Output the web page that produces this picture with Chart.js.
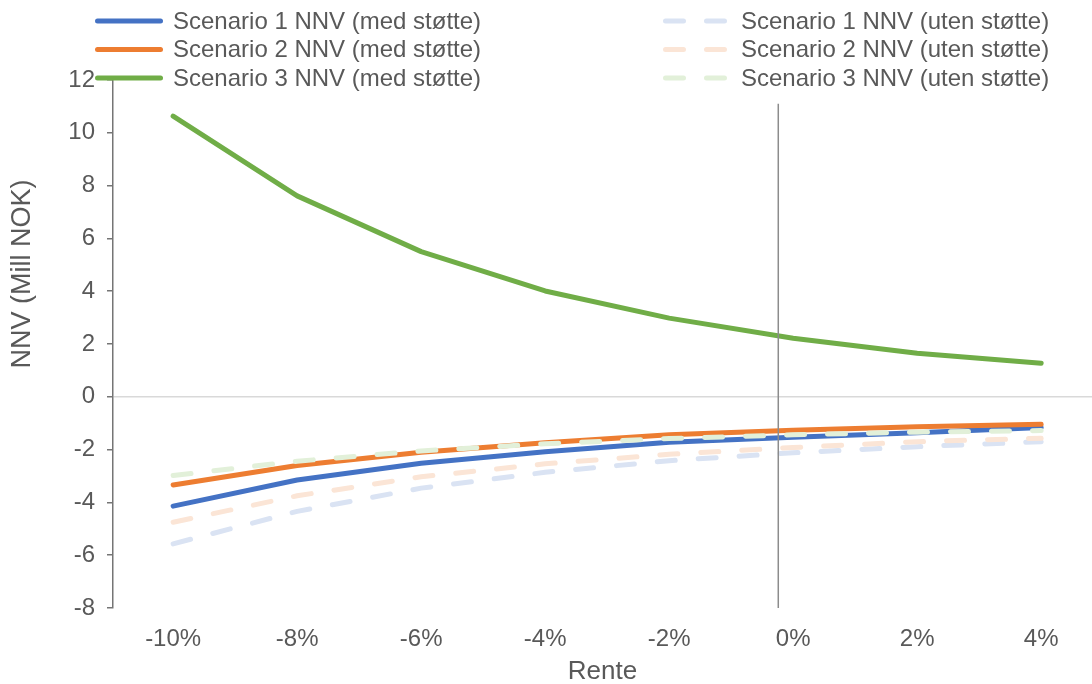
<!DOCTYPE html>
<html>
<head>
<meta charset="utf-8">
<script src="https://cdn.jsdelivr.net/npm/chart.js@4/dist/chart.umd.min.js"></script>
<style>
  html, body { margin: 0; padding: 0; background: #fff; overflow: hidden; }
  #wrap { width: 1092px; height: 684px; }
</style>
</head>
<body>
<div id="wrap"><canvas id="chart" width="1092" height="684"></canvas></div>
<script>
// Rente (%)
const renter = [-10, -8, -6, -4, -2, 0, 2, 4];

// NNV (Mill NOK)
const s1Med = [-4.14, -3.15, -2.52, -2.08, -1.72, -1.53, -1.36, -1.16];
const s2Med = [-3.34, -2.60, -2.10, -1.74, -1.44, -1.27, -1.13, -1.04];
const s3Med = [10.63, 7.61, 5.50, 4.01, 2.98, 2.22, 1.65, 1.27];
const s1Uten = [-5.57, -4.34, -3.46, -2.86, -2.42, -2.12, -1.89, -1.70];
const s2Uten = [-4.75, -3.75, -3.03, -2.54, -2.18, -1.92, -1.70, -1.57];
const s3Uten = [-2.98, -2.44, -2.05, -1.78, -1.58, -1.44, -1.34, -1.28];

const seriesLabels = [
    'Scenario 1 NNV (med støtte)',
    'Scenario 2 NNV (med støtte)',
    'Scenario 3 NNV (med støtte)',
    'Scenario 1 NNV (uten støtte)',
    'Scenario 2 NNV (uten støtte)',
    'Scenario 3 NNV (uten støtte)'
];
const seriesValues = [s1Med, s2Med, s3Med, s1Uten, s2Uten, s3Uten];
const seriesColors = ['#4472C4', '#ED7D31', '#70AD47', '#DAE3F3', '#FBE5D6', '#E2F0D9'];

// vertical reference line
const refX = [-0.24, -0.24];
const refY = [-8, 11.1];

const yTicks = [-8, -6, -4, -2, 0, 2, 4, 6, 8, 10, 12];
const yTitle = 'NNV (Mill NOK)';

const FONT = '"Liberation Sans", Arial, sans-serif';
const TEXT = '#595959';
const DASH = [18, 23];

function toPoints(xs, ys) {
    return xs.map((x, i) => ({ x: x, y: ys[i] }));
}

const datasets = seriesValues.map((vals, i) => ({
    label: seriesLabels[i],
    data: toPoints(renter, vals),
    borderColor: seriesColors[i],
    backgroundColor: seriesColors[i],
    borderWidth: 5,
    borderDash: i >= 3 ? DASH : [],
    borderCapStyle: 'round',
    borderJoinStyle: 'round',
    pointRadius: 0,
    tension: 0,
    fill: false,
    order: 6 - i
}));

datasets.push({
    label: 'ref',
    data: toPoints(refX, refY),
    borderColor: '#8c8c8c',
    borderWidth: 1.5,
    pointRadius: 0,
    fill: false,
    order: 0
});

// legend in two columns + y title placed like the original
const extras = {
    id: 'extras',
    afterDraw(chart) {
        const ctx = chart.ctx;
        ctx.save();
        ctx.font = '24px ' + FONT;
        ctx.fillStyle = TEXT;
        ctx.textBaseline = 'middle';
        ctx.lineCap = 'round';
        ctx.lineWidth = 5;
        seriesLabels.forEach((label, i) => {
            const col = i < 3 ? 0 : 1;
            const row = i % 3;
            const x0 = col ? 665.5 : 97.5;
            const y = 21 + row * 28.5;
            ctx.strokeStyle = seriesColors[i];
            ctx.setLineDash(col ? DASH : []);
            ctx.beginPath();
            ctx.moveTo(x0, y);
            ctx.lineTo(x0 + 63, y);
            ctx.stroke();
            ctx.fillText(label, x0 + 75.5, y + 1);
        });

        ctx.translate(22, 274);
        ctx.rotate(-Math.PI / 2);
        ctx.font = '27px ' + FONT;
        ctx.textAlign = 'center';
        ctx.fillText(yTitle, 0, 1);
        ctx.restore();
    }
};

new Chart(document.getElementById('chart').getContext('2d'), {
    type: 'line',
    data: { datasets: datasets },
    plugins: [extras],
    options: {
        responsive: false,
        animation: false,
        devicePixelRatio: 1,
        layout: { padding: { top: 80, left: 0, right: 0, bottom: 0 } },
        plugins: {
            legend: { display: false },
            tooltip: { enabled: false }
        },
        scales: {
            x: {
                type: 'linear',
                min: -10.97,
                max: 4.82,
                afterBuildTicks: scale => {
                    scale.ticks = renter.map(v => ({ value: v }));
                },
                afterFit: scale => { scale.height = 76; },
                grid: { display: false, drawTicks: false },
                border: { display: false },
                ticks: {
                    autoSkip: false,
                    maxRotation: 0,
                    padding: 17,
                    color: TEXT,
                    font: { family: FONT, size: 24 },
                    callback: v => v + '%'
                },
                title: {
                    display: true,
                    text: 'Rente',
                    color: TEXT,
                    font: { family: FONT, size: 26 },
                    padding: { top: 4, bottom: -3 }
                }
            },
            y: {
                min: -8,
                max: 12,
                afterBuildTicks: scale => {
                    scale.ticks = yTicks.map(v => ({ value: v }));
                },
                afterFit: scale => { scale.width = 113; },
                grid: {
                    color: c => (c.tick && c.tick.value === 0 ? '#d9d9d9' : 'rgba(0,0,0,0)'),
                    lineWidth: 1.5,
                    drawTicks: true,
                    tickLength: 6,
                    tickColor: '#757575'
                },
                border: { display: true, color: '#757575', width: 1.5 },
                ticks: {
                    padding: 12,
                    color: TEXT,
                    font: { family: FONT, size: 24 }
                },
                title: { display: false }
            }
        }
    }
});
</script>
</body>
</html>
